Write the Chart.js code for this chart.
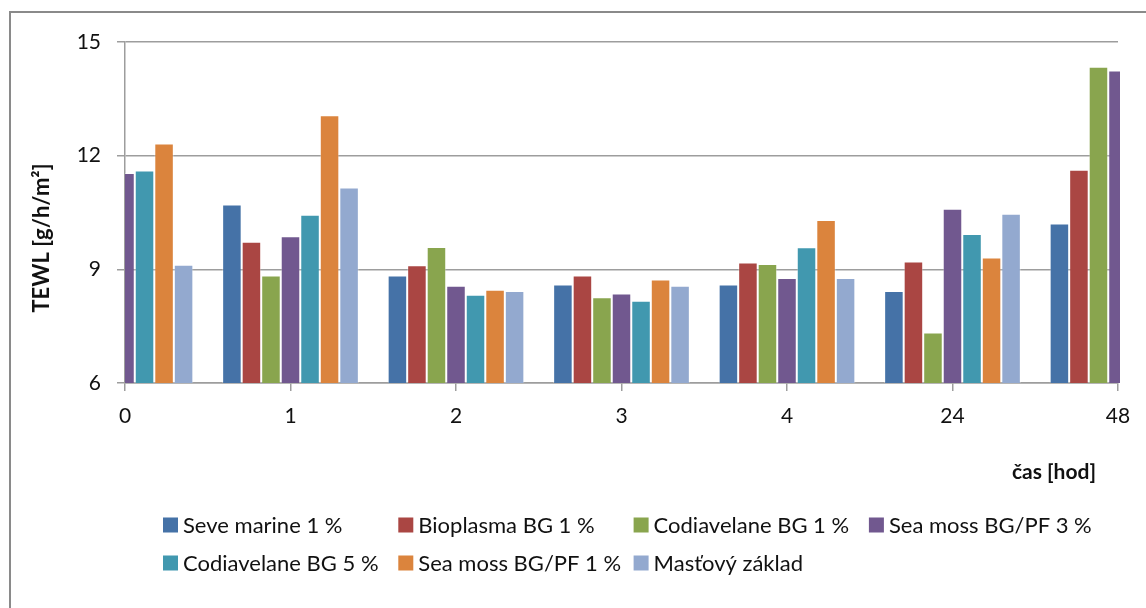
<!DOCTYPE html>
<html>
<head>
<meta charset="utf-8">
<title>TEWL</title>
<script src="https://cdn.jsdelivr.net/npm/chart.js@4/dist/chart.umd.min.js"></script>
<style>
  html, body { margin: 0; padding: 0; background: #fff; }
  #wrap { position: relative; width: 1146px; height: 608px; overflow: hidden; }
  #frame { position: absolute; left: 9px; top: 11px; width: 1200px; height: 700px;
           border-left: 2.5px solid #8a8a8a; border-top: 2.5px solid #8a8a8a; }
  canvas { position: absolute; left: 0; top: 0; }
</style>
</head>
<body>
<div id="wrap">
  <div id="frame"></div>
  <canvas id="c" width="1146" height="608"></canvas>
</div>
<script>
// Measurement times (hours)
const categories = ['0', '1', '2', '3', '4', '24', '48'];

// TEWL values [g/h/m²] per formulation
const seveMarine1   = [null, 10.71, 8.84, 8.60, 8.60, 8.43, 10.21];
const bioplasma1    = [null, 9.73, 9.11, 8.84, 9.18, 9.21, 11.63];
const codiavelane1  = [null, 8.84, 9.59, 8.26, 9.14, 7.33, 14.35];
const seaMoss3      = [11.54, 9.87, 8.57, 8.36, 8.77, 10.60, 14.25];
const codiavelane5  = [11.61, 10.44, 8.33, 8.17, 9.58, 9.93, null];
const seaMoss1      = [12.32, 13.07, 8.46, 8.73, 10.30, 9.31, null];
const mastovyZaklad = [9.12, 11.16, 8.43, 8.57, 8.77, 10.47, null];

const seriesNames = ['Seve marine 1 %', 'Bioplasma BG 1 %', 'Codiavelane BG 1 %',
                     'Sea moss BG/PF 3 %', 'Codiavelane BG 5 %', 'Sea moss BG/PF 1 %',
                     'Masťový základ'];
const seriesValues = [seveMarine1, bioplasma1, codiavelane1, seaMoss3,
                      codiavelane5, seaMoss1, mastovyZaklad];
const seriesColors = ['#4572A7', '#AA4643', '#89A54E', '#71588F',
                      '#4198AF', '#DB843D', '#93A9CF'];

const yTicks = [6, 9, 12, 15];
const yTitle = 'TEWL [g/h/m²]';
const xTitle = 'čas [hod]';

const FONT = 'Lato, "Open Sans", sans-serif';
const GRID = '#9d9d9d';

// Axis titles and a two-row, fixed-column legend
const annotations = {
  id: 'annotations',
  afterDraw(chart) {
    const { ctx, chartArea } = chart;
    ctx.save();
    ctx.fillStyle = '#111';
    ctx.font = 'bold 22px ' + FONT;
    ctx.textAlign = 'center';
    ctx.textBaseline = 'middle';
    ctx.save();
    ctx.translate(42, 238);
    ctx.rotate(-Math.PI / 2);
    ctx.fillText(yTitle, 0, 0);
    ctx.restore();

    ctx.font = 'bold 21px ' + FONT;
    ctx.textAlign = 'right';
    ctx.fillText(xTitle, chartArea.right - 22, 472);

    ctx.font = '22px ' + FONT;
    ctx.textAlign = 'left';
    const colX = 163, colW = 235.3, rowY = [525, 563], perRow = 4;
    chart.data.datasets.forEach((ds, i) => {
      const x = colX + (i % perRow) * colW;
      const y = rowY[Math.floor(i / perRow)];
      ctx.fillStyle = ds.backgroundColor;
      ctx.fillRect(x, y - 7.5, 15, 15);
      ctx.fillStyle = '#111';
      ctx.fillText(ds.label, x + 20, y + 1);
    });
    ctx.restore();
  }
};

new Chart(document.getElementById('c'), {
  type: 'bar',
  data: {
    labels: categories,
    datasets: seriesNames.map((name, i) => ({
      label: name,
      data: seriesValues[i],
      backgroundColor: seriesColors[i],
      borderColor: 'rgba(255,255,255,0.35)',
      borderWidth: 1,
      clip: { left: 0, right: 2, top: 0, bottom: 0 }
    }))
  },
  options: {
    responsive: false,
    devicePixelRatio: 1,
    animation: false,
    layout: { padding: { left: 0, right: 28, top: 42, bottom: 0 } },
    datasets: { bar: { categoryPercentage: 0.826, barPercentage: 1 } },
    plugins: { legend: { display: false }, tooltip: { enabled: false } },
    scales: {
      x: {
        type: 'category',
        offset: false,
        grid: { offset: false, drawOnChartArea: false, drawTicks: true,
                tickLength: 8, color: GRID, lineWidth: 1.5 },
        border: { display: true, color: GRID, width: 1.5 },
        ticks: { color: '#111', font: { family: FONT, size: 21 }, padding: 13,
                 maxRotation: 0, autoSkip: false },
        afterFit(scale) { scale.height = 225; }
      },
      y: {
        min: 6, max: 15,
        afterBuildTicks(scale) { scale.ticks = yTicks.map(v => ({ value: v })); },
        grid: { drawTicks: true, tickLength: 8, color: GRID, lineWidth: 1.5 },
        border: { display: true, color: GRID, width: 1.5 },
        ticks: { color: '#111', font: { family: FONT, size: 21 }, padding: 16 },
        afterFit(scale) { scale.width = 125; }
      }
    }
  },
  plugins: [annotations]
});
</script>
</body>
</html>
